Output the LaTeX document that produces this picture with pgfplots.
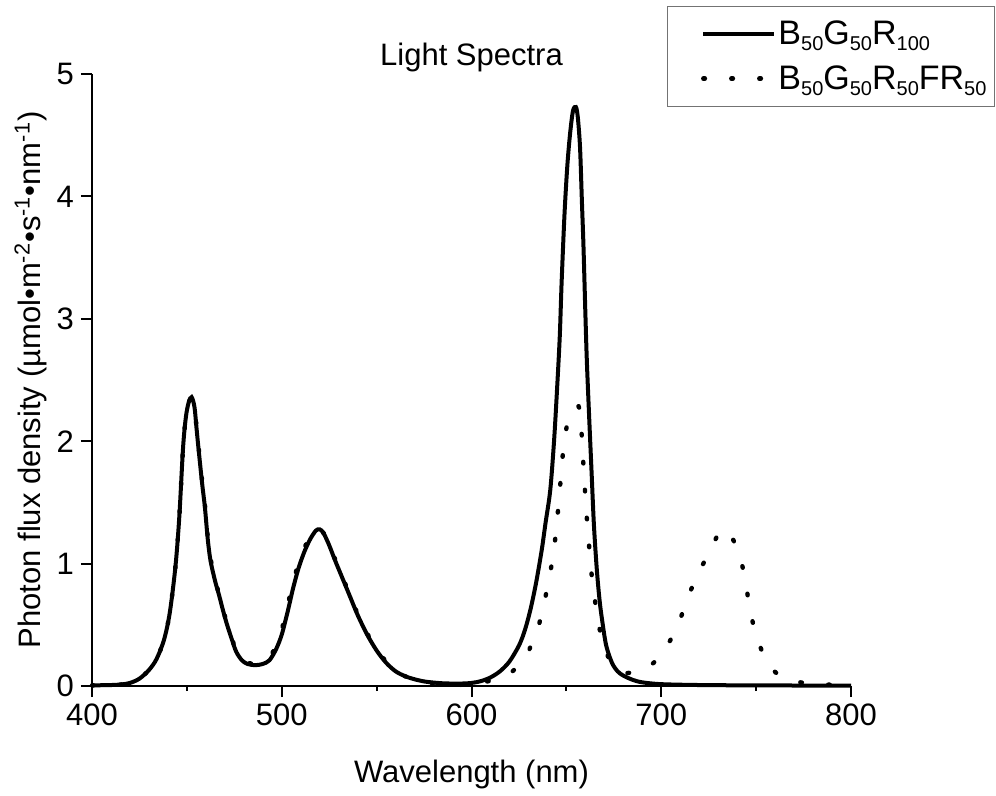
\documentclass[border=0pt]{standalone}
\usepackage{fontspec}
\setmainfont{Liberation Sans}
\usepackage{pgfplots}
\pgfplotsset{compat=1.18}

\newcommand{\lbl}{\fontsize{15.5}{18.6}\selectfont}
\newcommand{\leg}{\fontsize{17}{20}\selectfont}
\newcommand{\sub}[1]{\raisebox{-3pt}{\fontsize{10}{12}\selectfont #1}}

\begin{document}
\begin{tikzpicture}
\begin{axis}[
  scale only axis, width=379.5pt, height=306pt,
  xmin=400, xmax=800, ymin=0, ymax=5,
  xtick={400,500,600,700,800}, ytick={0,1,2,3,4,5},
  minor x tick num=1,
  axis x line*=bottom, axis y line*=left,
  axis line style={-, line width=1pt},
  tick align=outside,
  major tick length=5.5pt, minor tick length=2.5pt,
  every tick/.style={black, line width=1pt},
  /pgf/number format/assume math mode=true,
  tick label style={font=\lbl},
  title={Light Spectra},
  every axis title shift=0pt,
  title style={font=\lbl, at={(axis description cs:0.5,1.0147)}, anchor=base},
  xlabel={Wavelength (nm)},
  xlabel style={font=\lbl, at={(axis description cs:0.5,-0.1569)}, anchor=base},
  ylabel={Photon flux density (µmol•m\textsuperscript{-2}•s\textsuperscript{-1}•nm\textsuperscript{-1})},
  ylabel style={font=\lbl, at={(axis description cs:-0.0685,0.5)}, anchor=base},
  clip=false,
  reverse legend,
  legend cell align=left,
  legend image code/.code={\path[draw=none, fill=none] (0pt,-2pt) rectangle (1pt,2pt); \draw[#1] (15pt,0pt) -- (50.5pt,0pt);},
  legend style={at={(axis description cs:1.1897,1.111)}, anchor=north east,
    draw=black!55, line width=0.5pt, font=\leg,
    inner xsep=3pt, inner ysep=5pt, row sep=5pt,
    nodes={inner xsep=1pt, inner ysep=2pt},
    /tikz/every even column/.append style={column sep=5pt}},
]
% B50G50R50FR50
\addplot[black, line width=2.2pt, line cap=round, dash pattern=on 0.8pt off 13.2pt, smooth, tension=0.5] coordinates {
(400,0.005) (410,0.008) (415,0.012) (420,0.025) (425,0.06) (430,0.13) (434,0.22)
(438,0.38) (441,0.60) (444,0.98) (446,1.38) (448,1.95) (449.5,2.20) (451,2.32)
(452.5,2.35) (454,2.28) (455,2.13) (456,1.98) (458,1.68) (459.5,1.48) (461,1.22)
(462.5,1.04) (465,0.86) (467,0.75) (469,0.63) (471,0.52) (473.5,0.40) (476,0.29)
(479,0.22) (482,0.19) (486,0.18) (490,0.19) (493.5,0.23) (497,0.33) (500,0.46)
(503,0.65) (506,0.85) (509,1.01) (512,1.13) (515,1.22) (518,1.28) (520,1.28)
(522,1.25) (525,1.16) (528,1.04) (532,0.89) (536,0.74) (540,0.59) (545,0.43)
(550,0.30) (555,0.20) (560,0.13) (565,0.08) (570,0.05) (576,0.03) (585,0.015)
(594,0.01) (600,0.01) (606,0.03) (612,0.05) (616,0.07) (620,0.10) (625,0.17)
(629.4,0.26) (632,0.36) (635,0.47) (638.3,0.68) (641.2,0.90) (643.5,1.12)
(645,1.34) (646.4,1.57) (647.5,1.79) (649,2.01) (651,2.18) (653,2.26) (655,2.28)
(656.8,2.27) (658.1,2.05) (658.9,1.83) (659.8,1.60) (660.7,1.39) (661.9,1.16)
(663.1,0.94) (664.9,0.72) (667,0.50) (670.9,0.28) (675,0.16) (680,0.11)
(685,0.11) (690.5,0.13) (696,0.19) (701,0.28) (705,0.38) (708.7,0.49)
(713.7,0.71) (719.2,0.91) (725.9,1.11) (730,1.24) (733,1.28) (736,1.25)
(740.8,1.09) (744.3,0.87) (746.4,0.65) (749.6,0.44) (754.5,0.23) (759,0.13)
(764,0.07) (770,0.04) (778,0.02) (790,0.01) (800,0.005)
};
\addlegendentry{B\sub{50}G\sub{50}R\sub{50}FR\sub{50}}
% B50G50R100
\addplot[black, line width=2pt, smooth, tension=0.5] coordinates {
(400,0.005) (410,0.008) (415,0.012) (420,0.025) (425,0.06) (430,0.13) (434,0.22)
(438,0.38) (441,0.60) (444,0.98) (446,1.38) (448,1.95) (449.5,2.20) (451,2.32)
(452.5,2.36) (454,2.28) (455,2.12) (456,1.96) (458,1.66) (459.5,1.46) (461,1.20)
(462.5,1.02) (465,0.85) (467,0.74) (469,0.62) (471,0.51) (473.5,0.39) (476,0.28)
(479,0.21) (482,0.18) (486,0.17) (490,0.18) (493.5,0.21) (497,0.30) (500,0.42)
(503,0.60) (506,0.80) (509,0.97) (512,1.10) (515,1.20) (518,1.27) (520,1.28)
(522,1.25) (525,1.15) (528,1.03) (532,0.88) (536,0.73) (540,0.58) (545,0.42)
(550,0.29) (555,0.19) (560,0.12) (565,0.08) (570,0.055) (576,0.035) (585,0.022)
(594,0.02) (600,0.025) (605,0.04) (610,0.07) (615,0.12) (620,0.20) (625,0.33)
(628,0.45) (631,0.62) (634,0.84) (637,1.11) (639,1.33) (641.5,1.60) (643.5,2.00)
(645,2.40) (646.5,2.85) (647.5,3.30) (649,3.85) (650.5,4.25) (652,4.52)
(653.5,4.70) (655,4.73) (656,4.65) (657.2,4.40) (658.2,3.95) (659,3.60)
(660,3.05) (660.8,2.65) (662,2.20) (663.3,1.74) (664.5,1.32) (666,0.96)
(667.5,0.70) (669,0.52) (671,0.33) (674,0.19) (677,0.12) (680,0.085) (685,0.05)
(690,0.03) (700,0.015) (720,0.008) (750,0.005) (800,0.003)
};
\addlegendentry{B\sub{50}G\sub{50}R\sub{100}}
\end{axis}
\path ([shift={(-46pt,-54.5pt)}]current axis.south west) rectangle ([shift={(72.5pt,37pt)}]current axis.north east);
\end{tikzpicture}
\end{document}
